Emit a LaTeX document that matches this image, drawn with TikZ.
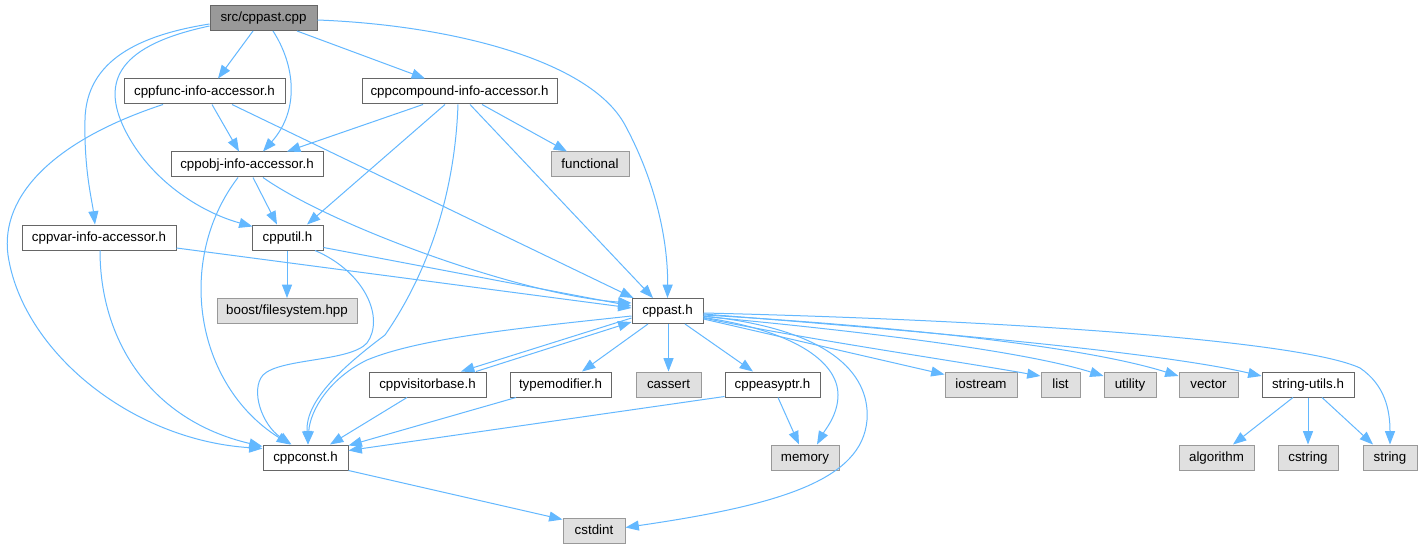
\documentclass[tikz,border=0pt]{standalone}
\usepackage{fontspec}
\setmainfont{Liberation Sans}
\usetikzlibrary{arrows.meta}
\definecolor{edgec}{HTML}{63B8FF}
\definecolor{bord}{HTML}{666666}
\definecolor{sysb}{HTML}{999999}
\definecolor{sysf}{HTML}{E0E0E0}
\definecolor{rootf}{HTML}{999999}
\begin{document}
\begin{tikzpicture}[x=0.75pt,y=-0.75pt,
  box/.style={draw=bord, line width=0.75pt, minimum height=18.75pt, inner sep=0pt, text height=7.6pt, text depth=2pt, font=\fontsize{10pt}{12pt}\selectfont, text=black},
  hdr/.style={box, fill=white},
  sys/.style={box, draw=sysb, fill=sysf},
  root/.style={box, fill=rootf},
  wd/.style={minimum width=#1*0.75pt},
  edg/.style={draw=edgec, line width=0.75pt, -{Triangle[length=10pt,width=7.5pt]}},
]
\fill[white] (0,0) rectangle (1427,549);
\useasboundingbox (0,0) rectangle (1427,549);

% nodes
\node[root, wd=107] (cpp) at (263.5,18) {src/cppast.cpp};
\node[hdr, wd=161] (func) at (204.5,91.5) {cppfunc-info-accessor.h};
\node[hdr, wd=195] (comp) at (459.5,91.5) {cppcompound-info-accessor.h};
\node[hdr, wd=152] (obj) at (247,164.5) {cppobj-info-accessor.h};
\node[sys, wd=78] (functional) at (590,164.5) {functional};
\node[hdr, wd=154] (var) at (99,237.5) {cppvar-info-accessor.h};
\node[hdr, wd=71] (util) at (287.5,237.5) {cpputil.h};
\node[sys, wd=140] (boost) at (287,311) {boost/filesystem.hpp};
\node[hdr, wd=71] (ast) at (667.5,311) {cppast.h};
\node[hdr, wd=117] (visitor) at (427.5,384.5) {cppvisitorbase.h};
\node[hdr, wd=101] (typemod) at (560.5,384.5) {typemodifier.h};
\node[sys, wd=65] (cassert) at (668.5,384.5) {cassert};
\node[hdr, wd=95] (easyptr) at (772.5,384.5) {cppeasyptr.h};
\node[sys, wd=72] (iostream) at (981,384.5) {iostream};
\node[sys, wd=39] (list) at (1060.5,384.5) {list};
\node[sys, wd=52] (utility) at (1130,384.5) {utility};
\node[sys, wd=59] (vector) at (1208.5,384.5) {vector};
\node[hdr, wd=92] (strutils) at (1308,384.5) {string-utils.h};
\node[hdr, wd=85] (cconst) at (305.5,457.5) {cppconst.h};
\node[sys, wd=68] (memory) at (805,457.5) {memory};
\node[sys, wd=75] (algorithm) at (1216.5,457.5) {algorithm};
\node[sys, wd=60] (cstring) at (1308,457.5) {cstring};
\node[sys, wd=54] (string) at (1390,457.5) {string};
\node[sys, wd=62] (cstdint) at (594,530.5) {cstdint};

% edges from src/cppast.cpp
\draw[edg] ([shift={(-10.5,0)}]cpp.south) -- ([shift={(13.5,0)}]func.north);
\draw[edg] ([shift={(9.5,0)}]cpp.south) .. controls (295,65) and (300,110) .. ([shift={(16,0)}]obj.north);
\draw[edg] ([shift={(33.5,0)}]cpp.south) -- ([shift={(-34.5,0)}]comp.north);
\draw[edg] ([shift={(0,2)}]cpp.east) .. controls (450,25) and (590,60) .. (625,125) .. controls (660,190) and (668,250) .. (ast.north);
\draw[edg] ([shift={(0,6)}]cpp.west) .. controls (140,35) and (86,60) .. (85,120) .. controls (84,170) and (92,200) .. ([shift={(-4,0)}]var.north);
\draw[edg] ([shift={(0,8)}]cpp.west) .. controls (120,45) and (100,80) .. (125,130) .. controls (150,180) and (200,212) .. ([shift={(1,2)}]util.north west);

% edges from cppfunc-info-accessor.h
\draw[edg] ([shift={(7.5,0)}]func.south) -- ([shift={(-8,0)}]obj.north);
\draw[edg] ([shift={(27.5,0)}]func.south) -- ([shift={(2,0)}]ast.north west);
\draw[edg] ([shift={(-41.5,0)}]func.south) .. controls (55,140) and (0,195) .. (8,255) .. controls (22,350) and (130,440) .. ([shift={(0,-9)}]cconst.west);

% edges from cppcompound-info-accessor.h
\draw[edg] ([shift={(-36.5,0)}]comp.south) -- ([shift={(40,0)}]obj.north);
\draw[edg] ([shift={(-14.5,0)}]comp.south) -- ([shift={(19.5,0)}]util.north);
\draw[edg] ([shift={(-1.5,0)}]comp.south) .. controls (455,190) and (430,270) .. (385,335) .. controls (345,365) and (305,400) .. ([shift={(2.5,0)}]cconst.north);
\draw[edg] ([shift={(10.5,0)}]comp.south) -- ([shift={(-14.5,0)}]ast.north);
\draw[edg] ([shift={(22.5,0)}]comp.south) -- ([shift={(-23,0)}]functional.north);

% edges from cppobj-info-accessor.h
\draw[edg] ([shift={(6,0)}]obj.south) -- ([shift={(-10.5,0)}]util.north);
\draw[edg] ([shift={(16,0)}]obj.south) .. controls (330,225) and (520,295) .. ([shift={(0,-8)}]ast.west);
\draw[edg] ([shift={(-9,0)}]obj.south) .. controls (175,260) and (195,385) .. ([shift={(-15.5,0)}]cconst.north);

% edges from cppvar-info-accessor.h
\draw[edg] ([shift={(0,10.5)}]var.east) -- ([shift={(0,-3)}]ast.west);
\draw[edg] ([shift={(1,0)}]var.south) .. controls (100,340) and (150,420) .. ([shift={(0,-11)}]cconst.west);

% edges from cpputil.h
\draw[edg] ([shift={(-0.5,0)}]util.south) -- (boost.north);
\draw[edg] ([shift={(0,10)}]util.east) -- ([shift={(0,-5)}]ast.west);
\draw[edg] ([shift={(27.5,0)}]util.south) .. controls (365,272) and (385,318) .. (367,343) .. controls (350,362) and (280,358) .. (263,375) .. controls (250,390) and (262,425) .. ([shift={(-14,0)}]cconst.north);

% edges from cppast.h
\draw[edg] ([shift={(0,5)}]ast.west) .. controls (520,328) and (420,338) .. (367,360) .. controls (330,378) and (310,410) .. ([shift={(2.5,0)}]cconst.north);
\draw[edg] ([shift={(0,7)}]ast.west) -- ([shift={(33.5,0)}]visitor.north);
\draw[edg] ([shift={(-19.5,0)}]ast.south) -- ([shift={(21.5,0)}]typemod.north);
\draw[edg] ([shift={(1,0)}]ast.south) -- (cassert.north);
\draw[edg] ([shift={(17.5,0)}]ast.south) -- ([shift={(-19.5,0)}]easyptr.north);
\draw[edg] ([shift={(0,6.5)}]ast.east) .. controls (790,330) and (838,360) .. (838,395) .. controls (838,415) and (825,430) .. ([shift={(12,0)}]memory.north);
\draw[edg] ([shift={(0,5)}]ast.east) .. controls (840,330) and (870,380) .. (867,420) .. controls (862,480) and (780,505) .. ([shift={(0,-3)}]cstdint.east);
\draw[edg] ([shift={(0,8)}]ast.east) -- ([shift={(0,-10)}]iostream.west);
\draw[edg] ([shift={(0,7)}]ast.east) .. controls (810,340) and (950,360) .. ([shift={(0,-8.5)}]list.west);
\draw[edg] ([shift={(0,5.5)}]ast.east) .. controls (850,330) and (1020,350) .. ([shift={(0,-8.5)}]utility.west);
\draw[edg] ([shift={(0,4)}]ast.east) .. controls (880,325) and (1080,345) .. ([shift={(0,-8.5)}]vector.west);
\draw[edg] ([shift={(0,3)}]ast.east) .. controls (880,328) and (1150,350) .. ([shift={(0,-8.5)}]strutils.west);
\draw[edg] ([shift={(0,2)}]ast.east) .. controls (1000,320) and (1300,340) .. (1360,368) .. controls (1385,385) and (1390,410) .. (string.north);

% edges from cppvisitorbase.h
\draw[edg] ([shift={(48.5,0)}]visitor.north) -- ([shift={(0,11)}]ast.west);
\draw[edg] ([shift={(-20.5,0)}]visitor.south) -- ([shift={(24.5,0)}]cconst.north);

% edges from typemodifier.h
\draw[edg] ([shift={(-44.5,0)}]typemod.south) -- ([shift={(0,1)}]cconst.north east);

% edges from cppeasyptr.h
\draw[edg] ([shift={(0,-1)}]easyptr.south west) -- ([shift={(0,-7)}]cconst.east);
\draw[edg] ([shift={(5.5,0)}]easyptr.south) -- ([shift={(-6,0)}]memory.north);

% edges from string-utils.h
\draw[edg] ([shift={(-15,0)}]strutils.south) -- ([shift={(16.5,0)}]algorithm.north);
\draw[edg] (strutils.south) -- (cstring.north);
\draw[edg] ([shift={(14,0)}]strutils.south) -- ([shift={(-17,0)}]string.north);

% edges from cppconst.h
\draw[edg] (cconst.south east) -- ([shift={(0,2)}]cstdint.north west);
\end{tikzpicture}
\end{document}
